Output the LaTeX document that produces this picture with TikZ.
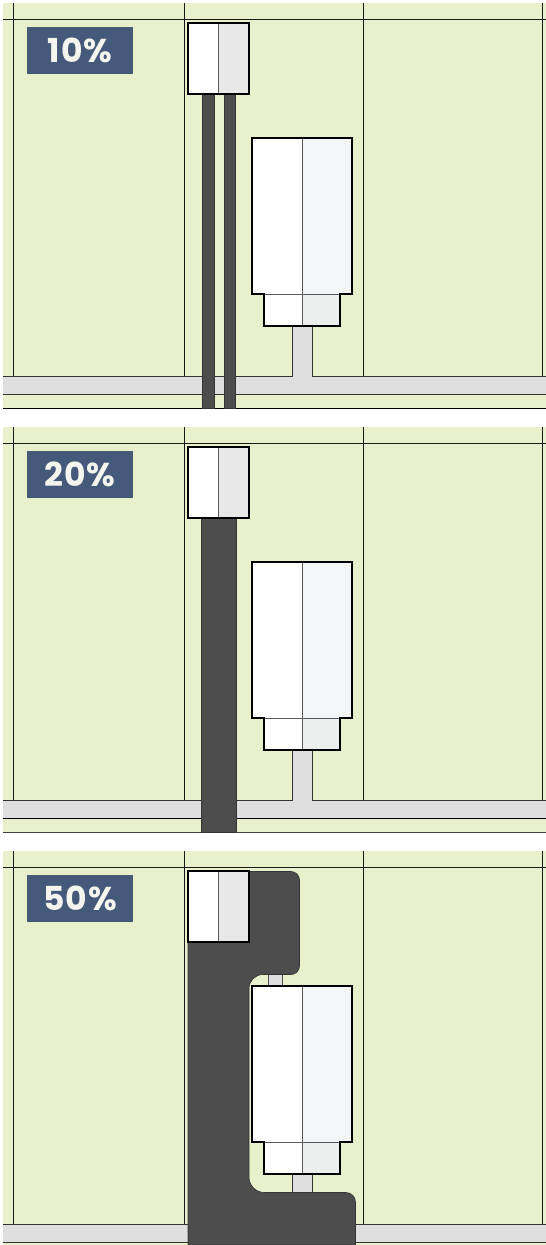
\documentclass[tikz,border=0pt]{standalone}
\usepackage{fontspec}
\setmainfont{Poppins}
\newfontfamily\tagfont[LetterSpace=3]{Poppins}
\definecolor{wall}{HTML}{E8F0CC}
\definecolor{concrete}{HTML}{4D4D4D}
\definecolor{duct}{HTML}{DFDFDF}
\definecolor{shadeA}{HTML}{E8E8E8}
\definecolor{shadeB}{HTML}{F3F5F7}
\definecolor{shadeC}{HTML}{ECEFEE}
\definecolor{tagblue}{HTML}{45597A}
\definecolor{tagtext}{HTML}{F3F5EE}
\tikzset{
  gridline/.style={draw=black!90, line width=1pt},
  ductline/.style={draw=black!80, line width=1pt},
  unitedge/.style={draw=black, line width=2pt},
  midline/.style={draw=black!65, line width=0.9pt},
  pour/.style={fill=concrete, draw=black!80, line width=0.6pt},
  tag/.style={fill=tagblue, text=tagtext, minimum width=106pt, minimum height=46.5pt,
    inner sep=0pt, font=\tagfont\bfseries\fontsize{33}{33}\selectfont},
}
% walls, grid and duct of one panel: top, height, label
\newcommand{\panelbase}[3]{
\begin{scope}[shift={(0,#1)}]
\fill[wall] (3,0) rectangle (546,#2);
\draw[gridline] (3,16) -- (546,16);
\foreach \gx in {13.5,184.8,363.3,542.5}
  \draw[gridline] (\gx,0) -- (\gx,373.5);
\fill[duct] (3,373.5) -- (292,373.5) -- (292,323) -- (312.5,323) -- (312.5,373.5)
  -- (546,373.5) -- (546,391) -- (3,391) -- cycle;
\draw[ductline] (3,373.5) -- (292,373.5) -- (292,323);
\draw[ductline] (312.5,323) -- (312.5,373.5) -- (546,373.5);
\draw[ductline] (3,391) -- (546,391);
\node[tag] (tag#3) at (80,47.4) {#3\%\hspace{15pt}};
\end{scope}
}
% the two units of one panel: top
\newcommand{\panelunits}[1]{
\begin{scope}[shift={(-0.3,#1)}]
\fill[white] (188.5,19.7) rectangle (218.7,91.3);
\fill[shadeA] (218.7,19.7) rectangle (249.2,91.3);
\draw[midline] (218.7,19.7) -- (218.7,91.3);
\draw[unitedge] (188.5,19.7) rectangle (249.2,91.3);
\fill[white] (252.7,134.5) rectangle (302.5,291);
\fill[shadeB] (302.5,134.5) rectangle (352.7,291);
\fill[white] (264.7,291) rectangle (302.5,323.3);
\fill[shadeC] (302.5,291) rectangle (340,323.3);
\draw[midline] (302.5,134.5) -- (302.5,323.3);
\draw[midline] (264.7,291) -- (340,291);
\draw[unitedge] (264.7,291) -- (252.7,291) -- (252.7,134.5) -- (352.7,134.5) -- (352.7,291) -- (340,291)
  -- (340,323.3) -- (264.7,323.3) -- cycle;
\end{scope}
}
\begin{document}
\begin{tikzpicture}[x=1pt,y=-1pt]
\useasboundingbox (0,0) rectangle (546,1245);
% 10%
\panelbase{3}{405}{10}
\draw[black, line width=1pt] (3,408.2) -- (546,408.2);
\draw[pour] (202.3,94) rectangle (213.8,408);
\draw[pour] (224,94) rectangle (235.3,408);
\panelunits{3}
% 20%
\panelbase{427}{405.5}{20}
\draw[black!75, line width=1pt] (3,832.5) -- (546,832.5);
\draw[black, line width=0.9pt] (3,818.2) -- (546,818.2);
\draw[pour] (201,518) rectangle (236.7,832.5);
\panelunits{427}
% 50%
\panelbase{851}{394}{50}
\fill[duct,draw=black!70,line width=0.6pt] (268.3,974) rectangle (282.7,986);
\draw[pour] (188,871.5) -- (291,871.5) arc[start angle=-90,end angle=0,radius=8.5]
  -- (299.5,966) arc[start angle=0,end angle=90,radius=8.5]
  -- (263,974.5) arc[start angle=-90,end angle=-180,radius=14]
  -- (249,1177) arc[start angle=180,end angle=90,radius=15.5]
  -- (346,1192.5) arc[start angle=-90,end angle=0,radius=9.5]
  -- (355.5,1245) -- (188,1245) -- cycle;
\panelunits{851}
\end{tikzpicture}
\end{document}
